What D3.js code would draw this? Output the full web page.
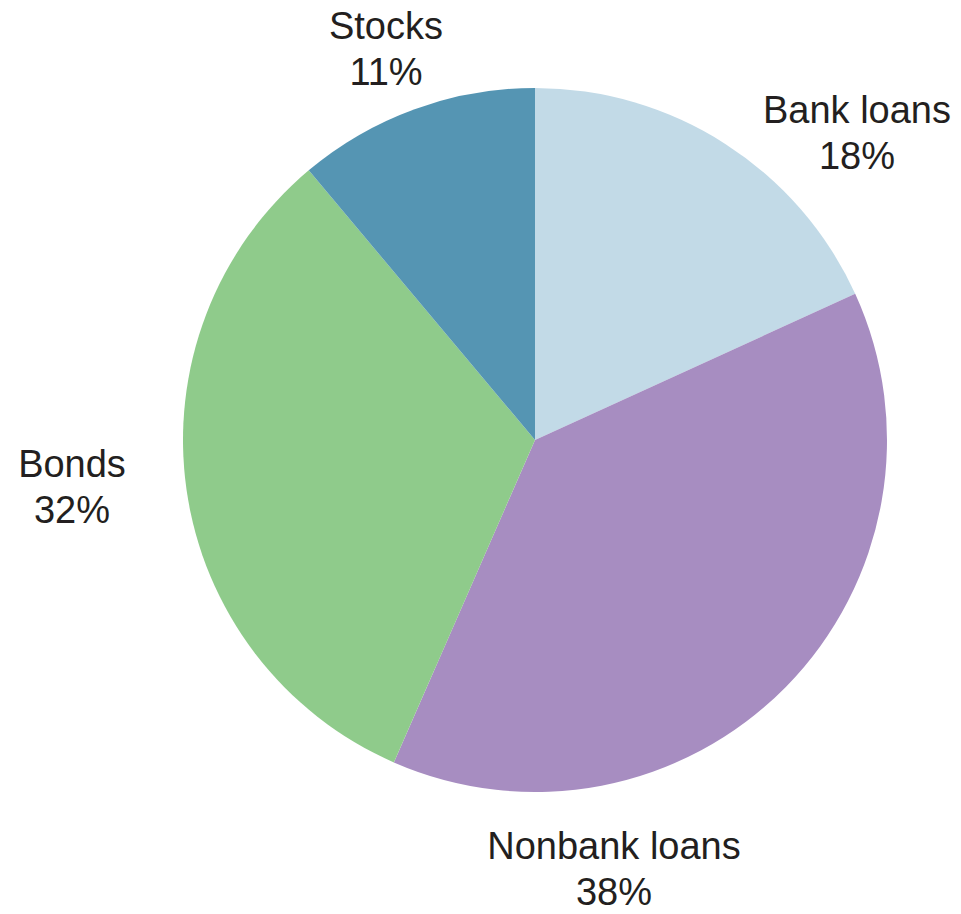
<html lang="en">
<head>
<meta charset="utf-8">
<title>Pie</title>
<script src="https://cdn.jsdelivr.net/npm/d3@7"></script>
<style>
  body { margin: 0; background: #fff; }
</style>
</head>
<body></body>
<script type="text/javascript">

// data
var categories = ["Bank loans", "Nonbank loans", "Bonds", "Stocks"];
var values = [18, 38, 32, 11];
var colors = ["#c2dae7", "#a78dc1", "#8fcb8b", "#5595b3"];
// label anchor points (first line baseline) in page pixels
var labelX = [857, 614, 72, 386];
var labelY = [123, 859, 477, 39];

var width = 961, height = 914;
var cx = 535, cy = 440, radius = 352;

var svg = d3.select("body")
	.append("svg")
	.attr("width", width)
	.attr("height", height);

var pie = d3.pie().sort(null).value(function(d) { return d; });
var arc = d3.arc().innerRadius(0).outerRadius(radius);

var g = svg.append("g")
	.attr("transform", "translate(" + cx + "," + cy + ")");

g.selectAll("path")
	.data(pie(values))
	.enter()
	.append("path")
	.attr("d", arc)
	.style("fill", function(d, i) { return colors[i]; })
	.style("stroke", "none");

/*********************************************************************/
// Labels

var labels = svg.selectAll(".lbl")
	.data(categories)
	.enter()
	.append("text")
	.attr("class", "lbl")
	.attr("text-anchor", "middle")
	.style("font-family", "'Liberation Sans', Arial, Helvetica, sans-serif")
	.style("font-size", "38px")
	.style("fill", "#231f20");

labels.append("tspan")
	.attr("x", function(d, i) { return labelX[i]; })
	.attr("y", function(d, i) { return labelY[i]; })
	.text(function(d) { return d; });

labels.append("tspan")
	.attr("x", function(d, i) { return labelX[i]; })
	.attr("y", function(d, i) { return labelY[i] + 46; })
	.text(function(d, i) { return values[i] + "%"; });

</script>
</html>
